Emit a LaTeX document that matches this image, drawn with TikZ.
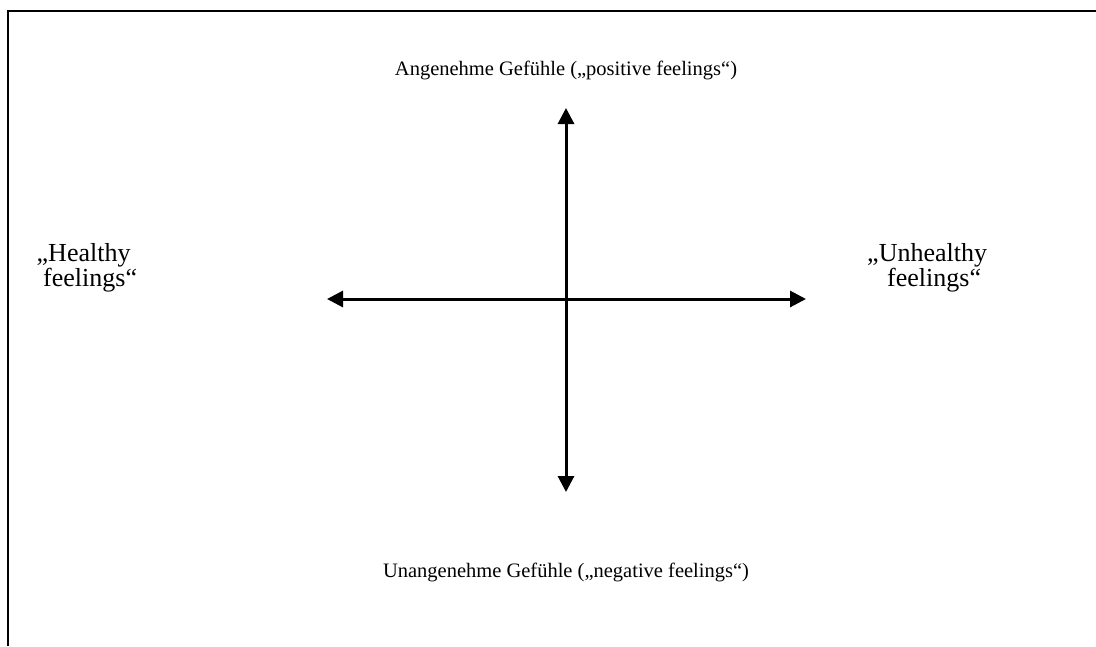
\documentclass[tikz,border=0pt]{standalone}
\usepackage{fontspec}
\setmainfont{Liberation Serif}
\usetikzlibrary{arrows.meta}
\tikzset{
  axis/.style={line width=3pt, {Triangle[length=16pt,width=16pt]}-{Triangle[length=16pt,width=16pt]}},
  frame/.style={line width=2.5pt},
  lbl/.style={inner sep=0pt, font=\fontsize{20.5}{24}\selectfont, align=center},
  side/.style={inner sep=0pt, font=\fontsize{26}{22.5}\selectfont, align=left, anchor=west}
}
\begin{document}
\begin{tikzpicture}[x=1pt,y=-1pt]
\useasboundingbox (0,0) rectangle (1096,646);
\coordinate (fc) at (8,646);
\coordinate (ft) at (8,11);
\coordinate (fr) at (1096,11);
\draw[frame] (fc) -- (ft) -- (fr);
\coordinate (top) at (566,108);
\coordinate (bot) at (566,492);
\coordinate (lft) at (327,299);
\coordinate (rgt) at (806,299);
\draw[axis] (top) -- (bot);
\draw[axis] (lft) -- (rgt);
\node[lbl] (pos) at (566,70) {Angenehme Gefühle („positive feelings“)};
\node[lbl] (neg) at (566,572) {Unangenehme Gefühle („negative feelings“)};
\node[side] (hea) at (36.5,268) {„Healthy\\ \hspace*{6.5pt}feelings“};
\node[side] (unh) at (867,268) {„Unhealthy\\ \hspace*{20pt}feelings“};
\end{tikzpicture}
\end{document}
